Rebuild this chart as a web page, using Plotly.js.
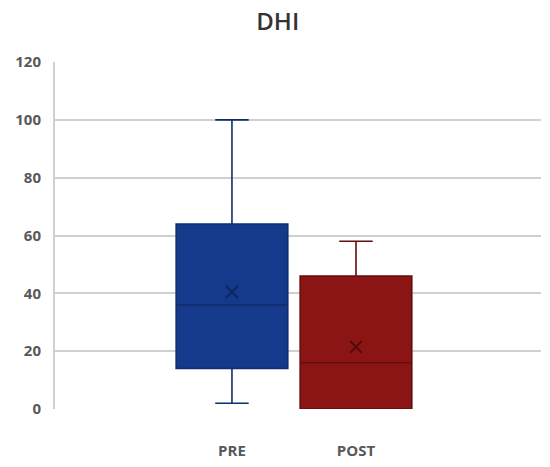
<!DOCTYPE html>
<html>
<head>
<meta charset="utf-8">
<script src="https://cdn.plot.ly/plotly-3.0.1.min.js"></script>
<style>html,body{margin:0;padding:0;background:#fff;}#chart{width:550px;height:467px;}</style>
</head>
<body>
<div id="chart"></div>
<script>
// Data
const categories = ['PRE', 'POST'];
const minValues = [2, 0];
const q1Values = [14, 0];
const medianValues = [36, 16];
const q3Values = [64, 46];
const maxValues = [100, 58];
const meanValues = [40.5, 21.5];

const fillColors = ['#153a8b', '#8b1515'];
const lineColors = ['#112d6e', '#630e0e'];
const meanColors = ['#0d2558', '#4f0a0a'];

const traces = categories.map((c, i) => ({
  type: 'box',
  name: c,
  x: [c],
  q1: [q1Values[i]],
  median: [medianValues[i]],
  q3: [q3Values[i]],
  lowerfence: [minValues[i]],
  upperfence: [maxValues[i]],
  fillcolor: fillColors[i],
  line: {color: lineColors[i], width: 1.6},
  width: 0.9,
  whiskerwidth: 0.3,
  boxpoints: false,
  hoverinfo: 'skip',
  showlegend: false
}));

categories.forEach((c, i) => {
  traces.push({
    type: 'scatter',
    mode: 'markers',
    x: [c],
    y: [meanValues[i]],
    marker: {symbol: 'x-thin-open', size: 12, color: meanColors[i], line: {color: meanColors[i], width: 1.8}},
    hoverinfo: 'skip',
    showlegend: false
  });
});

const tickFont = {family: 'Open Sans, sans-serif', size: 15, color: '#595959', weight: 'bold'};

const layout = {
  width: 550,
  height: 467,
  margin: {l: 55, r: 9, t: 62, b: 58},
  paper_bgcolor: '#ffffff',
  plot_bgcolor: '#ffffff',
  boxmode: 'overlay',
  title: {
    text: 'DHI',
    font: {family: 'Open Sans, sans-serif', size: 24, color: '#333333', weight: 600},
    x: 0.505, xanchor: 'center', y: 0.953, yanchor: 'middle'
  },
  xaxis: {
    type: 'category',
    categoryorder: 'array',
    categoryarray: categories,
    range: [-1.427, 2.492],
    showgrid: false,
    zeroline: false,
    showline: false,
    ticks: '',
    ticklabelstandoff: 31,
    tickfont: tickFont,
    fixedrange: true
  },
  yaxis: {
    range: [0, 120],
    tickvals: [0, 20, 40, 60, 80, 100, 120],
    showgrid: true,
    gridcolor: '#d0d0d0',
    gridwidth: 2,
    zeroline: false,
    showline: true,
    linecolor: '#d0d0d0',
    linewidth: 2,
    ticks: '',
    ticklabelstandoff: 9,
    tickfont: tickFont,
    fixedrange: true
  }
};

Plotly.newPlot('chart', traces, layout, {displayModeBar: false, staticPlot: true});
</script>
</body>
</html>
